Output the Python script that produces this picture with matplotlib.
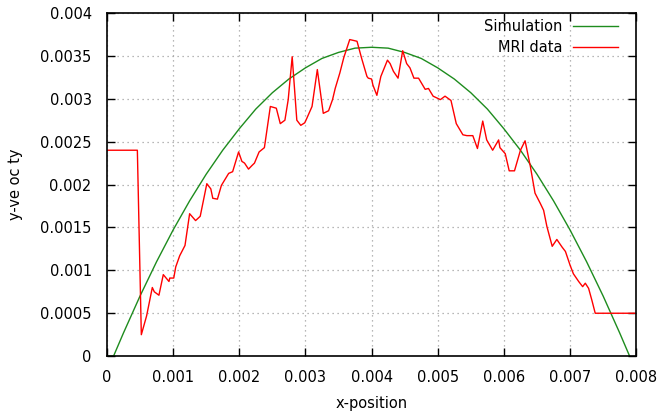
import matplotlib
matplotlib.use("Agg")
import matplotlib.pyplot as plt
from matplotlib.ticker import FormatStrFormatter

# Simulation curve
sim_x = [0.0, 0.0001, 0.00025, 0.0005, 0.00075, 0.001, 0.00125, 0.0015, 0.00175,
         0.002, 0.00225, 0.0025, 0.00275, 0.003, 0.00325, 0.0035, 0.00375, 0.004,
         0.00425, 0.0045, 0.00475, 0.005, 0.00525, 0.0055, 0.00575, 0.006,
         0.00625, 0.0065, 0.00675, 0.007, 0.00725, 0.0075, 0.00775, 0.0079]
sim_y = [0.0, 0.0, 0.00027, 0.0007, 0.0011, 0.00147, 0.00181, 0.00212, 0.0024,
         0.00265, 0.00288, 0.00307, 0.00323, 0.00336, 0.00347, 0.00354, 0.00359, 0.0036,
         0.00359, 0.00354, 0.00347, 0.00336, 0.00323, 0.00307, 0.00288, 0.00265,
         0.0024, 0.00212, 0.00181, 0.00147, 0.0011, 0.0007, 0.00027, 0.0]

# MRI data
mri_x = [0.0, 0.00046, 0.00052, 0.0006, 0.000686, 0.000716, 0.000786, 0.000852,
         0.000938, 0.00095, 0.00101, 0.00104, 0.0011, 0.00118, 0.00125, 0.00134,
         0.00141, 0.00151, 0.00157, 0.0016, 0.00167, 0.00173, 0.00184, 0.0019,
         0.00199, 0.00204, 0.00208, 0.00214, 0.00219, 0.00223, 0.0023, 0.00238,
         0.00247, 0.00256, 0.00262, 0.00269, 0.00274, 0.0028, 0.00287, 0.00293,
         0.00299, 0.00302, 0.0031, 0.00318, 0.00327, 0.00335, 0.00341, 0.00345,
         0.00352, 0.00358, 0.00367, 0.00378, 0.00385, 0.00393, 0.00395, 0.004,
         0.00402, 0.00408, 0.00414, 0.00424, 0.00428, 0.00433, 0.0044, 0.00447,
         0.00453, 0.00458, 0.00464, 0.00471, 0.00481, 0.00486, 0.00493, 0.00504,
         0.00511, 0.0052, 0.00528, 0.00538, 0.00544, 0.00553, 0.0056, 0.00568,
         0.00574, 0.00583, 0.00592, 0.00594, 0.00602, 0.00608, 0.00616, 0.00625,
         0.00632, 0.0064, 0.00647, 0.00655, 0.0066, 0.00665, 0.00673, 0.0068,
         0.00688, 0.00693, 0.007, 0.00705, 0.00713, 0.00719, 0.00723, 0.00728,
         0.00733, 0.00738, 0.008]
mri_y = [0.0024, 0.0024, 0.00025, 0.00047, 0.0008, 0.00075, 0.00071, 0.00095,
         0.00087, 0.00091, 0.00091, 0.00104, 0.00117, 0.00129, 0.00166, 0.00158,
         0.00163, 0.00201, 0.00195, 0.00184, 0.00183, 0.00199, 0.00213, 0.00215,
         0.00238, 0.00227, 0.00225, 0.00218, 0.00222, 0.00225, 0.00238, 0.00243,
         0.00291, 0.00289, 0.00271, 0.00275, 0.00299, 0.00349, 0.00275, 0.00269,
         0.00272, 0.00277, 0.00291, 0.00334, 0.00283, 0.00286, 0.00299, 0.00312,
         0.0033, 0.00348, 0.00369, 0.00367, 0.00347, 0.00326, 0.00324, 0.00323,
         0.00316, 0.00304, 0.00326, 0.00345, 0.00341, 0.00332, 0.00324, 0.00356,
         0.00341, 0.00336, 0.00324, 0.00324, 0.00311, 0.00312, 0.00303, 0.00299,
         0.00303, 0.00298, 0.00271, 0.00258, 0.00257, 0.00257, 0.00242, 0.00274,
         0.00252, 0.0024, 0.00252, 0.00243, 0.00236, 0.00216, 0.00216, 0.0024,
         0.00251, 0.00221, 0.0019, 0.00178, 0.0017, 0.00151, 0.00128, 0.00136,
         0.00127, 0.00122, 0.00106, 0.00096, 0.00087, 0.00081, 0.00085, 0.00079,
         0.00065, 0.0005, 0.0005]

x_ticks = [0, 0.001, 0.002, 0.003, 0.004, 0.005, 0.006, 0.007, 0.008]
y_ticks = [0, 0.0005, 0.001, 0.0015, 0.002, 0.0025, 0.003, 0.0035, 0.004]

fig = plt.figure(figsize=(6.6, 4.18), dpi=100)
ax = fig.add_axes([0.162, 0.148, 0.802, 0.821])

ax.plot(sim_x, sim_y, color="#1e8c1e", lw=1, label="Simulation")
ax.plot(mri_x, mri_y, color="#ff0000", lw=1, label="MRI data")

ax.set_xlim(0, 0.008)
ax.set_ylim(0, 0.004)
ax.set_xticks(x_ticks)
ax.set_yticks(y_ticks)
ax.xaxis.set_major_formatter(FormatStrFormatter("%g"))
ax.yaxis.set_major_formatter(FormatStrFormatter("%g"))
ax.tick_params(direction="in", length=6, width=1, top=True, right=True,
               labelsize=10.5, pad=10)
ax.tick_params(axis="y", pad=11)
ax.grid(True, color="#a0a0a0", linestyle=(0, (1, 3)), lw=0.9)
for s in ax.spines.values():
    s.set_linewidth(1.2)

ax.set_xlabel("x-position", fontsize=10.5, labelpad=8)
ax.set_ylabel("y-ve oc ty", fontsize=10.5, labelpad=12)

# legend: text right of the line sample, gnuplot-like, no frame
leg = ax.legend(loc="upper right", bbox_to_anchor=(1 - 18 / 529, 1 - 6 / 343),
                frameon=False, fontsize=10.5, markerfirst=False,
                handlelength=3.1, handletextpad=0.75, borderaxespad=0,
                borderpad=0, labelspacing=0.4)

fig.savefig("out.png", dpi=100)
